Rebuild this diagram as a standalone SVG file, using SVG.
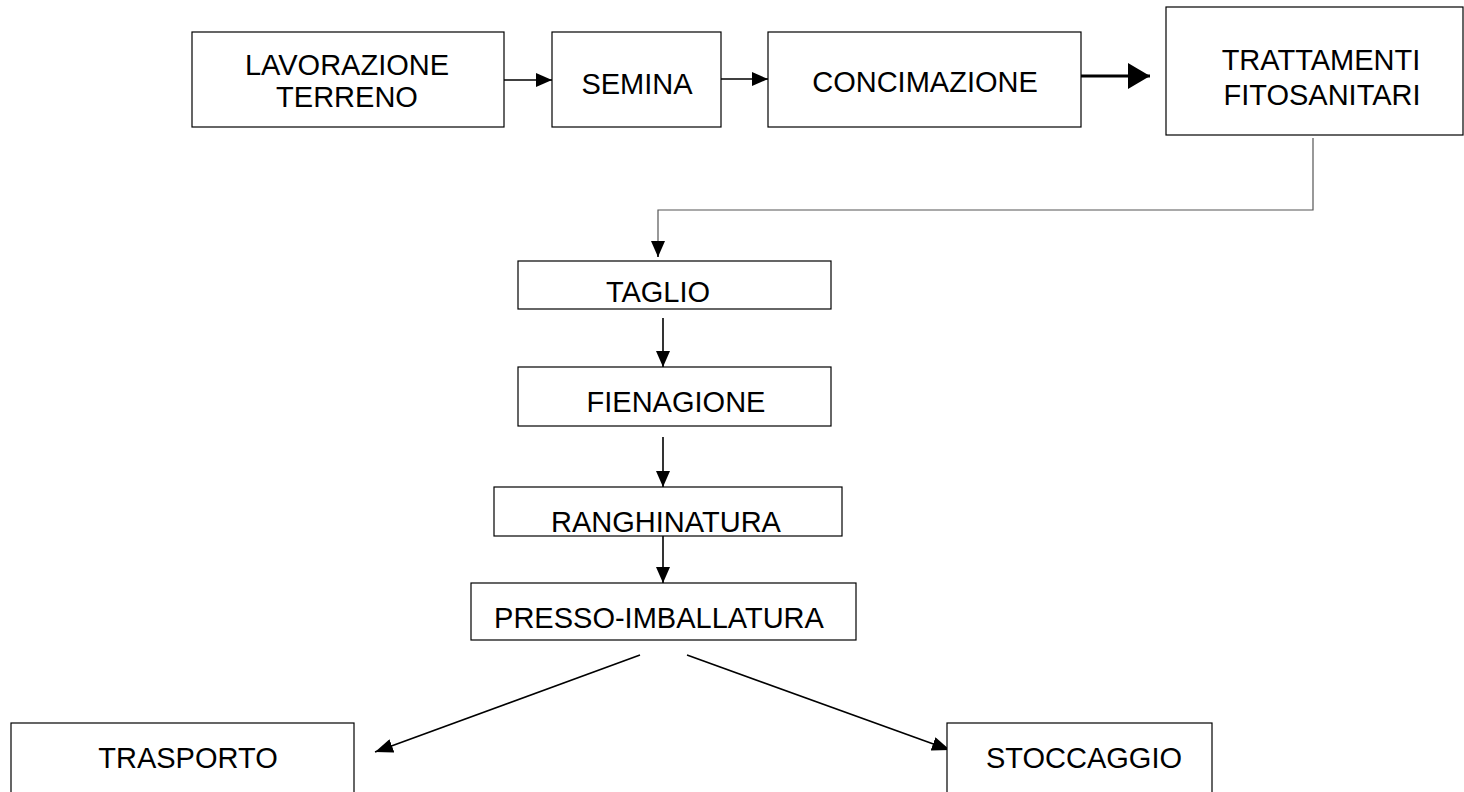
<svg xmlns="http://www.w3.org/2000/svg" width="1464" height="792" viewBox="0 0 1464 792">
<style>
.box{fill:#fff;stroke:#000;stroke-width:1.2}
.t{font-family:"Liberation Sans",Arial,sans-serif;font-size:29px;fill:#000;text-anchor:middle}
.ln{fill:none;stroke:#000;stroke-width:1.6}
.thk{fill:none;stroke:#000;stroke-width:3}
.gr{fill:none;stroke:#555;stroke-width:1.2}
</style>
<defs>
<marker id="ah" markerUnits="userSpaceOnUse" markerWidth="16" markerHeight="14" refX="16" refY="7" orient="auto"><path d="M0,0 L16,7 L0,14 Z" fill="#000"/></marker>
<marker id="ahb" markerUnits="userSpaceOnUse" markerWidth="22" markerHeight="26" refX="22" refY="13" orient="auto"><path d="M0,0 L22,13 L0,26 Z" fill="#000"/></marker>
<marker id="ahd" markerUnits="userSpaceOnUse" markerWidth="18" markerHeight="14" refX="18" refY="7" orient="auto"><path d="M0,0 L18,7 L0,14 Z" fill="#000"/></marker>
</defs>
<g id="connectors">
<line class="ln" x1="504" y1="80" x2="552" y2="80" marker-end="url(#ah)"/>
<line class="ln" x1="721" y1="79" x2="768" y2="79" marker-end="url(#ah)"/>
<line class="thk" x1="1081" y1="76" x2="1150" y2="76" marker-end="url(#ahb)"/>
<polyline class="gr" points="1313,138 1313,210 658,210 658,243"/>
<line class="ln" x1="658" y1="241" x2="658" y2="257" marker-end="url(#ah)"/>
<line class="ln" x1="663" y1="318" x2="663" y2="367" marker-end="url(#ah)"/>
<line class="ln" x1="663" y1="437" x2="663" y2="487" marker-end="url(#ah)"/>
<line class="ln" x1="663" y1="536" x2="663" y2="583" marker-end="url(#ah)"/>
<line class="ln" x1="640" y1="655" x2="375" y2="752" marker-end="url(#ahd)"/>
<line class="ln" x1="687" y1="655" x2="950" y2="750" marker-end="url(#ahd)"/>
</g>
<g id="lavorazione">
<rect class="box" x="192" y="32" width="312" height="95"/>
<text class="t" x="347" y="75">LAVORAZIONE</text>
<text class="t" x="347" y="107">TERRENO</text>
</g>
<g id="semina">
<rect class="box" x="552" y="32" width="169" height="95"/>
<text class="t" x="637" y="94">SEMINA</text>
</g>
<g id="concimazione">
<rect class="box" x="768" y="32" width="313" height="95"/>
<text class="t" x="925" y="92">CONCIMAZIONE</text>
</g>
<g id="trattamenti">
<rect class="box" x="1166" y="7" width="297" height="128"/>
<text class="t" x="1321" y="70">TRATTAMENTI</text>
<text class="t" x="1322" y="105">FITOSANITARI</text>
</g>
<g id="taglio">
<rect class="box" x="518" y="261" width="313" height="48"/>
<text class="t" x="658" y="302">TAGLIO</text>
</g>
<g id="fienagione">
<rect class="box" x="518" y="367" width="313" height="59"/>
<text class="t" x="676" y="412">FIENAGIONE</text>
</g>
<g id="ranghinatura">
<rect class="box" x="494" y="487" width="348" height="49"/>
<text class="t" x="666" y="532">RANGHINATURA</text>
</g>
<g id="presso">
<rect class="box" x="471" y="583" width="385" height="57"/>
<text class="t" x="659" y="628">PRESSO-IMBALLATURA</text>
</g>
<g id="trasporto">
<rect class="box" x="11" y="723" width="343" height="80"/>
<text class="t" x="188" y="768">TRASPORTO</text>
</g>
<g id="stoccaggio">
<rect class="box" x="947" y="723" width="265" height="80"/>
<text class="t" x="1084" y="768">STOCCAGGIO</text>
</g>
</svg>
